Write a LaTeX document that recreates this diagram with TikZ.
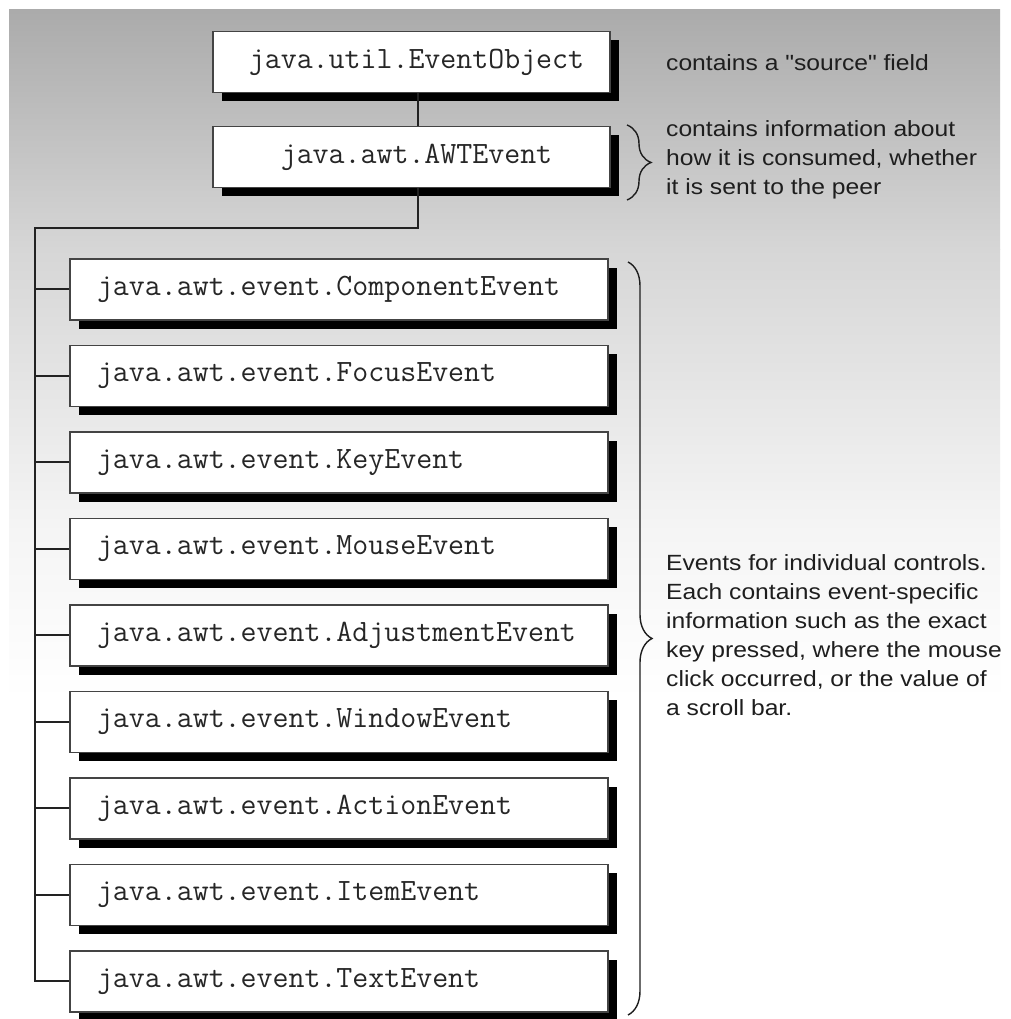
\documentclass[tikz,border=0pt]{standalone}
\usepackage{fontspec}
\newfontfamily\notefont[FakeStretch=1.12]{Liberation Sans}
\usetikzlibrary{shadows,decorations.pathreplacing,calc}
\definecolor{g0}{gray}{0.67}
\definecolor{g1}{gray}{0.84}
\definecolor{g2}{gray}{0.96}
\definecolor{linec}{HTML}{222222}
\definecolor{boxline}{HTML}{444444}
\definecolor{monoc}{HTML}{262626}
\definecolor{notec}{HTML}{1E1E1E}
\begin{document}
\begin{tikzpicture}[x=1pt,y=1pt,
  cls/.style={draw=boxline, line width=1.2pt, fill=white, minimum height=61pt, inner ysep=0pt,
     font=\fontsize{31}{31}\selectfont\ttfamily, text=monoc,
     drop shadow={shadow xshift=9pt, shadow yshift=-9pt, opacity=1, fill=black}},
  topcls/.style={cls, text width=397pt, inner xsep=0pt, align=center},
  subcls/.style={cls, text width=484pt, inner xsep=27pt, align=left},
  conn/.style={draw=linec, line width=2pt},
  bracec/.style={draw=notec, line width=1.4pt, decorate, decoration={brace, amplitude=24pt}},
  note/.style={font=\fontsize{22}{29}\notefont, text=notec, align=left, anchor=west, inner sep=0pt}]
\useasboundingbox (0,0) rectangle (1010,1019);
\fill[white] (0,0) rectangle (1010,1019);
\shade[top color=g0, bottom color=g1] (9,769) rectangle (1000,1009);
\shade[top color=g1, bottom color=g2] (9,489) rectangle (1000,769.5);
\shade[top color=g2, bottom color=white] (9,319) rectangle (1000,489.5);

\node[topcls] (eo) at (411.5,957) {\hspace*{10pt}java.util.EventObject};
\node[topcls] (awt) at (411.5,862) {\hspace*{10pt}java.awt.AWTEvent};
\foreach \n/\t [count=\i from 0] in {c1/ComponentEvent, c2/FocusEvent, c3/KeyEvent, c4/MouseEvent, c5/AdjustmentEvent, c6/WindowEvent, c7/ActionEvent, c8/ItemEvent, c9/TextEvent}
  \node[subcls] (\n) at (339,{729.5-86.5*\i}) {java.awt.event.\t};

\coordinate (tc) at (35,791);
\draw[conn] ([xshift=6.5pt]eo.south) -- ([xshift=6.5pt]awt.north);
\draw[conn] ([xshift=6.5pt]awt.south) |- (tc) |- (c9.west);
\foreach \n in {c1,c2,c3,c4,c5,c6,c7,c8}
  \draw[conn] (\n.west) -- (\n.west -| tc);

\coordinate (b1a) at (627,894);
\coordinate (b1b) at (627,819);
\draw[bracec] (b1a) -- (b1b);
\coordinate (b2a) at (628,757);
\coordinate (b2b) at (628,4);
\draw[bracec] (b2a) -- (b2b);

\node[note] (n1) at (666,956) {contains a "source" field};
\node[note] (n2) at (666,859) {contains information about\\how it is consumed, whether\\it is sent to the peer};
\node[note] (n3) at (666,384) {Events for individual controls.\\Each contains event-specific\\information such as the exact\\key pressed, where the mouse\\click occurred, or the value of\\a scroll bar.};
\end{tikzpicture}
\end{document}
